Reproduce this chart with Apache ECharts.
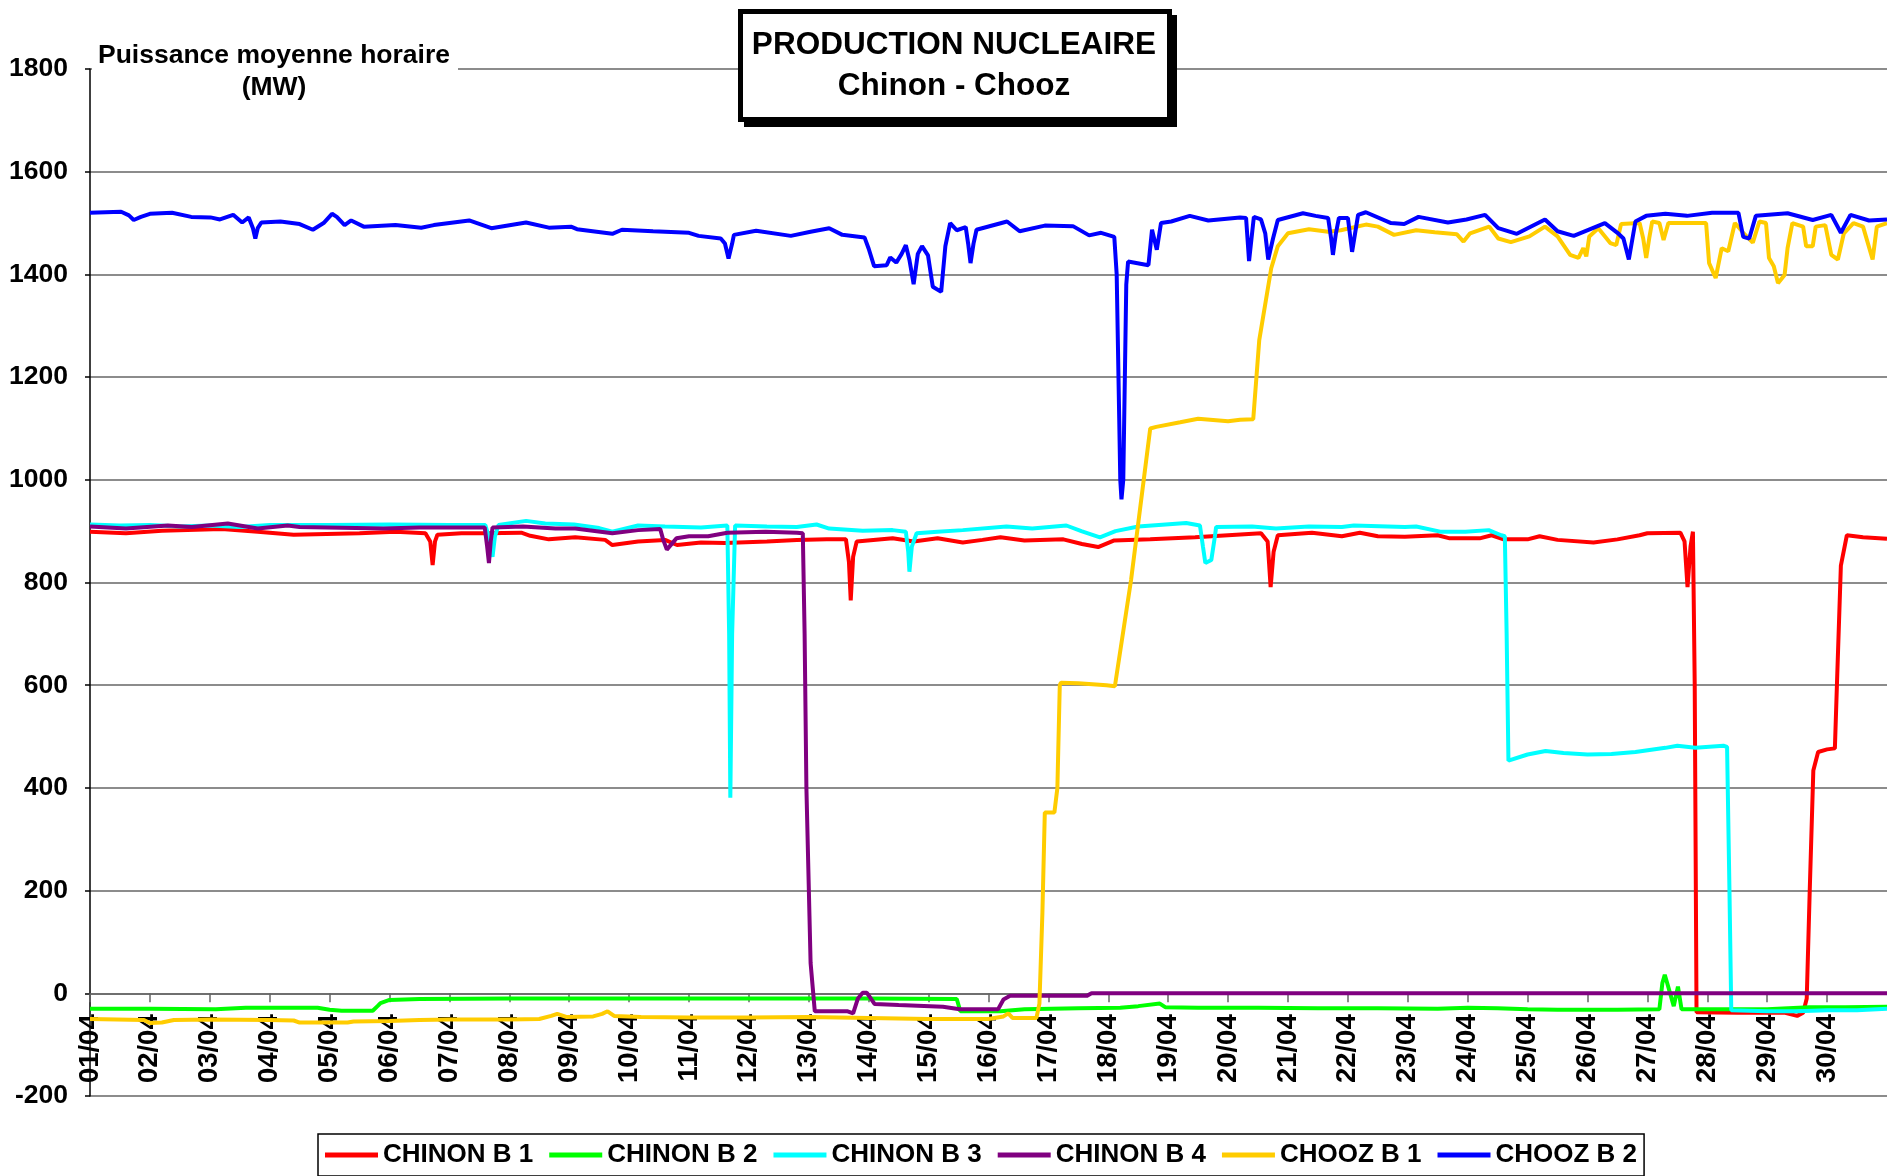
<!DOCTYPE html>
<html>
<head>
<meta charset="utf-8">
<title>Production nucleaire Chinon - Chooz</title>
<script src="https://cdn.jsdelivr.net/npm/echarts@6/dist/echarts.min.js"></script>
<style>
  html, body { margin: 0; padding: 0; background: #fff; }
  #chart { width: 1887px; height: 1176px; }
</style>
</head>
<body>
<div id="chart"></div>
<script>
// x = days since 01/04 00:00, y = MW
const seriesNames = ['CHINON B 1', 'CHINON B 2', 'CHINON B 3', 'CHINON B 4', 'CHOOZ B 1', 'CHOOZ B 2']
const seriesColors = ['#FF0000', '#00FF00', '#00FFFF', '#800080', '#FFCC00', '#0000FF']
const monthSuffix = '/04'
const valueTicks = { min: -200, max: 1800, step: 200 }

const chinonB1 = [
  [0, 899], [0.6, 896], [1.2, 901], [2.2, 904], [2.8, 899], [3.4, 893], [4.5, 896], [5.1, 899], [5.6, 896],
  [5.68, 880], [5.72, 834], [5.76, 880], [5.8, 893], [6.2, 896], [6.6, 896], [7.2, 897], [7.35, 891], [7.66, 884],
  [8.1, 888], [8.6, 883], [8.72, 873], [9.15, 880], [9.6, 883], [9.8, 873], [10.2, 878], [10.6, 877], [11.3, 880],
  [11.8, 883], [12.3, 884], [12.62, 884], [12.67, 840], [12.7, 765], [12.74, 850], [12.8, 880], [13.4, 886],
  [13.75, 880], [14.15, 886], [14.57, 878], [14.9, 883], [15.2, 888], [15.6, 882], [16.25, 884], [16.56, 875],
  [16.83, 869], [17.1, 882], [17.7, 884], [18.45, 888], [19.0, 892], [19.55, 896], [19.66, 880], [19.71, 791],
  [19.76, 860], [19.83, 892], [20.4, 897], [20.9, 890], [21.2, 897], [21.5, 890], [21.95, 889], [22.5, 892],
  [22.7, 886], [23.2, 886], [23.4, 892], [23.6, 884], [24.0, 884], [24.2, 890], [24.5, 883], [25.1, 878],
  [25.5, 884], [25.87, 892], [26.0, 896], [26.55, 897], [26.62, 880], [26.67, 791], [26.72, 870], [26.76, 899],
  [26.79, 600], [26.82, -37], [27.5, -38], [28.3, -38], [28.5, -44], [28.6, -38], [28.66, -10], [28.71, 200],
  [28.77, 434], [28.85, 470], [29.0, 475], [29.13, 477], [29.17, 622], [29.23, 833], [29.33, 892], [29.6, 888],
  [30, 885]
]

const chinonB2 = [
  [0, -30], [1, -30], [2.1, -31], [2.6, -28], [3.8, -28], [4.0, -32], [4.2, -34], [4.72, -34], [4.8, -25],
  [4.85, -19], [5.0, -13], [5.5, -11], [7, -10], [9, -10], [11, -10], [13, -10], [14.47, -11], [14.53, -35],
  [15.2, -35], [15.6, -31], [16.5, -29], [17.2, -28], [17.5, -25], [17.86, -20], [17.95, -27], [18.5, -28],
  [19.5, -28], [20.5, -29], [21.5, -29], [22.5, -30], [23, -28], [23.5, -29], [24, -31], [24.5, -32],
  [25.5, -32], [26.2, -31], [26.25, 20], [26.29, 36], [26.33, 20], [26.44, -25], [26.51, 13], [26.57, -31],
  [27, -31], [27.5, -31], [28, -31], [28.7, -27], [29.3, -27], [30, -26]
]

const chinonB3 = [
  [0, 913], [0.5, 911], [1, 912], [1.5, 909], [2, 911], [2.5, 908], [3, 912], [4, 912], [5, 913], [6, 912],
  [6.6, 912], [6.68, 880], [6.72, 850], [6.76, 890], [6.82, 912], [7.28, 920], [7.6, 915], [8.08, 913],
  [8.5, 906], [8.72, 899], [9.15, 911], [9.6, 909], [10.2, 907], [10.64, 911], [10.67, 700], [10.69, 381],
  [10.72, 700], [10.77, 911], [11.3, 909], [11.8, 908], [12.13, 913], [12.34, 905], [12.9, 901], [13.4, 902],
  [13.62, 899], [13.66, 860], [13.68, 821], [13.72, 870], [13.8, 896], [14.15, 899], [14.57, 902], [15.3, 909],
  [15.73, 905], [16.3, 911], [16.55, 900], [16.86, 888], [17.12, 900], [17.5, 909], [18.3, 916], [18.53, 911],
  [18.58, 870], [18.62, 838], [18.72, 844], [18.78, 890], [18.8, 908], [19.4, 909], [19.8, 905], [20.35, 909],
  [20.9, 908], [21.1, 911], [21.95, 908], [22.14, 909], [22.54, 899], [22.96, 899], [23.35, 902], [23.56, 892],
  [23.62, 890], [23.65, 700], [23.68, 453], [24.0, 465], [24.3, 472], [24.6, 468], [25.0, 465], [25.4, 466],
  [25.8, 470], [26.3, 478], [26.5, 482], [26.8, 478], [27.27, 482], [27.33, 480], [27.37, 200], [27.4, -33],
  [28, -35], [28.5, -35], [29, -33], [29.5, -33], [30, -30]
]

const chinonB4 = [
  [0, 909], [0.6, 905], [1.3, 911], [1.7, 908], [2.3, 915], [2.8, 905], [3.3, 911], [3.5, 908], [4.9, 905],
  [5.5, 907], [6.59, 907], [6.63, 870], [6.66, 838], [6.69, 880], [6.72, 907], [7.23, 909], [7.77, 905],
  [8.1, 905], [8.72, 896], [9.15, 902], [9.52, 904], [9.57, 883], [9.63, 864], [9.79, 886], [10.0, 890],
  [10.32, 890], [10.64, 897], [11.28, 899], [11.8, 897], [11.9, 896], [11.93, 700], [11.96, 400], [12.03, 59],
  [12.1, -35], [12.65, -35], [12.74, -39], [12.82, -10], [12.9, 1], [12.97, 1], [13.1, -21], [13.5, -23],
  [14.24, -26], [14.52, -31], [15.16, -31], [15.25, -12], [15.36, -5], [16.64, -5], [16.72, 0], [30, 0]
]

const choozB1 = [
  [0, -50], [0.9, -52], [1.0, -58], [1.2, -57], [1.4, -52], [2, -51], [3, -52], [3.4, -53], [3.5, -57],
  [4.3, -57], [4.4, -55], [5, -54], [5.5, -52], [6, -51], [7, -51], [7.5, -50], [7.7, -44], [7.8, -40],
  [7.95, -46], [8.4, -45], [8.55, -40], [8.64, -35], [8.75, -44], [9.2, -46], [10, -47], [11, -47], [12, -46],
  [12.5, -47], [13, -48], [14, -50], [15, -50], [15.25, -45], [15.33, -39], [15.4, -48], [15.8, -48],
  [15.85, -20], [15.9, 157], [15.94, 352], [16.1, 352], [16.15, 400], [16.19, 600], [16.21, 605], [16.5, 604],
  [16.97, 600], [17.11, 598], [17.38, 805], [17.7, 1100], [17.8, 1103], [18.2, 1112], [18.5, 1119], [19.0, 1114],
  [19.2, 1117], [19.42, 1118], [19.52, 1272], [19.72, 1412], [19.83, 1455], [20.0, 1480], [20.35, 1488],
  [20.67, 1483], [20.88, 1486], [21.3, 1497], [21.5, 1493], [21.77, 1477], [22.14, 1486], [22.45, 1482],
  [22.82, 1478], [22.93, 1464], [23.04, 1480], [23.36, 1493], [23.51, 1470], [23.72, 1463], [24.03, 1474],
  [24.29, 1493], [24.5, 1474], [24.71, 1438], [24.85, 1432], [24.93, 1451], [24.98, 1435], [25.03, 1474],
  [25.18, 1490], [25.38, 1461], [25.48, 1457], [25.56, 1498], [25.87, 1500], [25.93, 1470], [25.98, 1432],
  [26.03, 1470], [26.08, 1503], [26.2, 1500], [26.27, 1467], [26.35, 1500], [26.98, 1500], [27.03, 1422],
  [27.14, 1393], [27.24, 1451], [27.35, 1445], [27.46, 1500], [27.6, 1481], [27.76, 1462], [27.87, 1503],
  [27.98, 1500], [28.03, 1432], [28.11, 1416], [28.18, 1383], [28.29, 1399], [28.34, 1451], [28.42, 1500],
  [28.6, 1493], [28.65, 1455], [28.76, 1455], [28.81, 1493], [28.97, 1496], [29.07, 1438], [29.18, 1429],
  [29.28, 1480], [29.44, 1500], [29.6, 1493], [29.76, 1429], [29.83, 1493], [30, 1500]
]

const choozB2 = [
  [0, 1520], [0.52, 1522], [0.65, 1515], [0.73, 1506], [0.85, 1512], [1.0, 1518], [1.37, 1520], [1.69, 1512],
  [2.01, 1511], [2.17, 1507], [2.39, 1516], [2.54, 1501], [2.65, 1511], [2.72, 1490], [2.76, 1470], [2.8, 1490],
  [2.86, 1501], [3.18, 1503], [3.5, 1498], [3.72, 1487], [3.9, 1500], [4.04, 1518], [4.12, 1512], [4.25, 1496],
  [4.36, 1505], [4.57, 1493], [5.1, 1496], [5.53, 1491], [5.74, 1496], [6.33, 1505], [6.7, 1490], [7.28, 1501],
  [7.66, 1491], [8.03, 1493], [8.13, 1488], [8.72, 1479], [8.88, 1487], [9.4, 1484], [10.0, 1481], [10.16, 1475],
  [10.53, 1470], [10.6, 1460], [10.66, 1431], [10.72, 1460], [10.75, 1477], [11.12, 1485], [11.7, 1475],
  [12.03, 1483], [12.34, 1490], [12.56, 1477], [12.93, 1472], [13.0, 1450], [13.09, 1416], [13.3, 1418],
  [13.36, 1433], [13.46, 1423], [13.55, 1440], [13.62, 1457], [13.68, 1428], [13.75, 1381], [13.82, 1440],
  [13.89, 1455], [13.99, 1437], [14.07, 1376], [14.21, 1366], [14.28, 1455], [14.36, 1500], [14.47, 1486],
  [14.62, 1492], [14.66, 1460], [14.7, 1422], [14.75, 1460], [14.8, 1487], [15.31, 1503], [15.52, 1484],
  [15.94, 1495], [16.41, 1494], [16.68, 1476], [16.88, 1481], [17.1, 1473], [17.14, 1400], [17.2, 1000],
  [17.22, 962], [17.25, 1000], [17.3, 1380], [17.33, 1425], [17.67, 1418], [17.73, 1487], [17.81, 1448],
  [17.88, 1500], [18.05, 1503], [18.36, 1514], [18.67, 1505], [19.2, 1511], [19.3, 1510], [19.35, 1426],
  [19.43, 1512], [19.55, 1507], [19.62, 1480], [19.67, 1429], [19.75, 1470], [19.83, 1506], [20.25, 1519],
  [20.46, 1514], [20.67, 1510], [20.72, 1470], [20.75, 1438], [20.8, 1480], [20.85, 1510], [21.0, 1510],
  [21.07, 1444], [21.17, 1516], [21.3, 1521], [21.72, 1500], [21.94, 1498], [22.18, 1512], [22.67, 1501],
  [22.98, 1507], [23.29, 1516], [23.51, 1490], [23.82, 1479], [24.29, 1507], [24.5, 1484], [24.77, 1475],
  [25.29, 1500], [25.5, 1481], [25.6, 1470], [25.69, 1429], [25.8, 1503], [25.98, 1514], [26.3, 1518],
  [26.66, 1514], [27.08, 1520], [27.52, 1520], [27.6, 1473], [27.7, 1470], [27.81, 1514], [28.34, 1519],
  [28.76, 1506], [29.07, 1516], [29.23, 1481], [29.39, 1516], [29.7, 1505], [30, 1507]
]

const seriesData = [chinonB1, chinonB2, chinonB3, chinonB4, choozB1, choozB2]

const FONT = "'Liberation Sans', Arial, sans-serif"

// plot area in px, the day axis sits on the 0 MW line
const gridTop = 69
const gridBottom = 80
const plotHeight = 1176 - gridTop - gridBottom
const zeroOffset = plotHeight * (0 - valueTicks.min) / (valueTicks.max - valueTicks.min)

function dayLabel(value) {
  if (value >= 30) {
    return ''
  }
  const d = value + 1
  return (d < 10 ? '0' + d : '' + d) + monthSuffix
}

function textEl(text, x, y, size) {
  return {
    type: 'text',
    z: 110,
    style: {
      text,
      x,
      y,
      fill: '#000',
      font: `bold ${size}px ${FONT}`,
      textAlign: 'center',
      align: 'center',
      textVerticalAlign: 'middle',
      verticalAlign: 'middle',
    },
  }
}

const option = {
  backgroundColor: '#fff',
  animation: false,
  textStyle: { fontFamily: FONT },
  grid: {
    left: 90,
    right: 0,
    top: gridTop,
    bottom: gridBottom,
    containLabel: false,
  },
  legend: {
    data: seriesNames,
    left: 318,
    top: 1134,
    orient: 'horizontal',
    padding: [8, 7, 8, 7],
    itemGap: 16,
    itemWidth: 53,
    itemHeight: 5,
    icon: 'rect',
    borderColor: '#000',
    borderWidth: 1.5,
    textStyle: {
      color: '#000',
      fontSize: 26,
      fontWeight: 'bold',
      fontFamily: FONT,
    },
  },
  xAxis: {
    type: 'value',
    position: 'bottom',
    offset: -zeroOffset,
    min: 0,
    max: 30,
    interval: 1,
    axisLine: {
      show: true,
      onZero: false,
      lineStyle: { color: '#666', width: 1.5 },
    },
    axisTick: {
      show: true,
      length: 9,
      lineStyle: { color: '#666', width: 1.5 },
    },
    axisLabel: {
      rotate: 90,
      margin: 21,
      color: '#000',
      fontSize: 27.5,
      fontWeight: 'bold',
      fontFamily: FONT,
      showMaxLabel: false,
      formatter: dayLabel,
    },
    splitLine: { show: false },
  },
  yAxis: {
    type: 'value',
    min: valueTicks.min,
    max: valueTicks.max,
    interval: valueTicks.step,
    axisLine: {
      show: true,
      onZero: false,
      lineStyle: { color: '#000', width: 1.5 },
    },
    axisTick: {
      show: true,
      length: 5,
      lineStyle: { color: '#000', width: 1.5 },
    },
    axisLabel: {
      margin: 22,
      color: '#000',
      fontSize: 26.5,
      fontWeight: 'bold',
      fontFamily: FONT,
      formatter: v => String(v),
    },
    splitLine: {
      show: true,
      lineStyle: { color: '#666', width: 1.5 },
    },
  },
  graphic: {
    elements: [
      // y axis name, white box hides the 1800 grid line behind it
      {
        type: 'rect',
        z: 100,
        shape: { x: 92, y: 60, width: 366, height: 18 },
        style: { fill: '#fff' },
      },
      textEl('Puissance moyenne horaire', 274, 56, 26.5),
      textEl('(MW)', 274, 88, 26.5),
      // title box with its drop shadow
      {
        type: 'rect',
        z: 100,
        shape: { x: 744, y: 15, width: 433, height: 112 },
        style: { fill: '#000' },
      },
      {
        type: 'rect',
        z: 101,
        shape: { x: 740.5, y: 11.5, width: 429, height: 108 },
        style: { fill: '#fff', stroke: '#000', lineWidth: 5 },
      },
      textEl('PRODUCTION NUCLEAIRE', 954, 45.5, 31.5),
      textEl('Chinon - Chooz', 954, 86.5, 31.5),
    ],
  },
  series: seriesNames.map((name, i) => ({
    name,
    type: 'line',
    data: seriesData[i],
    showSymbol: false,
    symbol: 'none',
    smooth: false,
    color: seriesColors[i],
    lineStyle: { color: seriesColors[i], width: 4 },
    emphasis: { disabled: true },
  })),
}

const chart = echarts.init(document.getElementById('chart'), null, { renderer: 'canvas' })
chart.setOption(option)
</script>
</body>
</html>
